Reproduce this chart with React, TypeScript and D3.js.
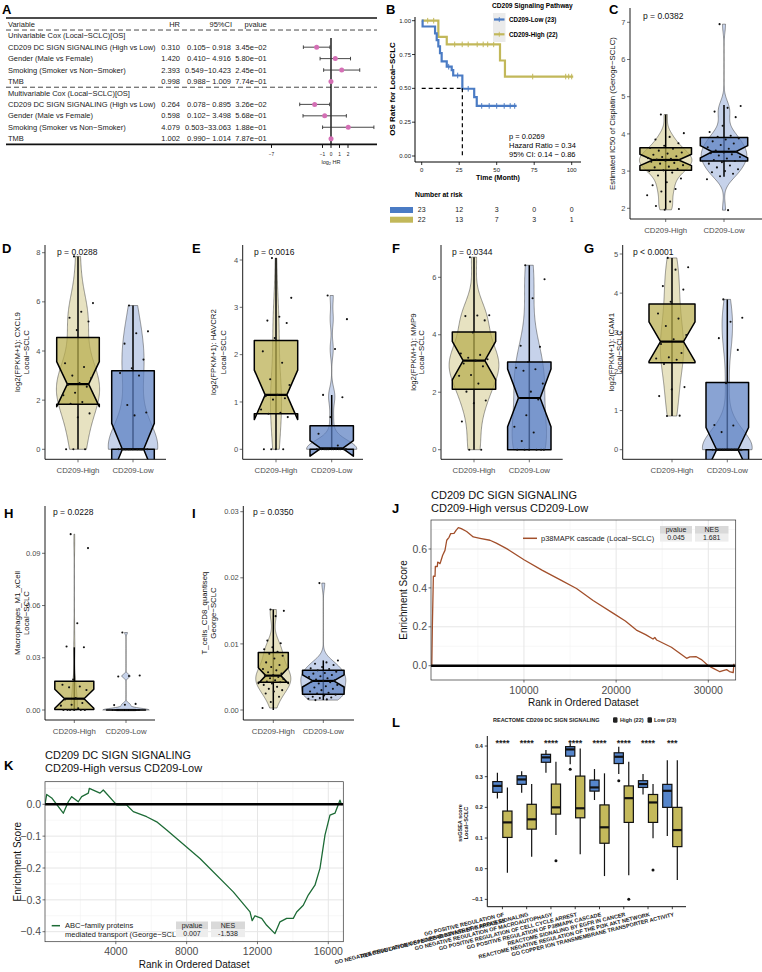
import React from 'react'
import * as d3 from 'd3'

const FONT = '"Liberation Sans", Arial, Helvetica, sans-serif'
const TXT = '#4D4D4D'
const HIGH = '#B9AD4E'
const LOW = '#5B7FC2'
const KM_BLUE = '#4A7BC4'
const KM_YEL = '#C2B85A'
const L_BLUE = '#5585CB'
const L_YEL = '#C4B95B'

// ---------- A: Cox regression ----------
const coxVars = ['CD209 DC SIGN SIGNALING (High vs Low)', 'Gender (Male vs Female)', 'Smoking (Smoker vs Non−Smoker)', 'TMB']
const uniHR = [0.31, 1.42, 2.393, 0.998]
const uniLo = [0.105, 0.41, 0.549, 0.988]
const uniHi = [0.918, 4.916, 10.423, 1.009]
const uniP = ['3.45e−02', '5.80e−01', '2.45e−01', '7.74e−01']
const mulHR = [0.264, 0.598, 4.079, 1.002]
const mulLo = [0.078, 0.102, 0.503, 0.99]
const mulHi = [0.895, 3.498, 33.063, 1.014]
const mulP = ['3.26e−02', '5.68e−01', '1.88e−01', '7.87e−01']
const forestTicks = [-7, -1, 0, 1, 2]

// ---------- B: Kaplan-Meier ----------
const kmLowT = [0, 0.6, 8.9, 10, 11.1, 12.2, 13.3, 16.7, 20, 21, 27.1, 35, 36.7, 63.3]
const kmLowS = [1, 0.957, 0.906, 0.857, 0.81, 0.76, 0.70, 0.66, 0.635, 0.595, 0.497, 0.435, 0.37, 0.37]
const kmLowCens = [18, 24, 31, 40, 45, 50, 55, 59, 62]
const kmHighT = [0, 11.1, 16.7, 52.2, 55.5, 101]
const kmHighS = [1, 0.88, 0.825, 0.706, 0.587, 0.587]
const kmHighCens = [4, 8, 22, 27, 31, 37, 41, 44, 48, 74, 96, 98, 100]
const kmTicksX = [0, 25, 50, 75, 100]
const kmTicksY = [0, 0.25, 0.5, 0.75, 1]
const riskLow = [23, 12, 3, 0, 0]
const riskHigh = [22, 13, 7, 3, 1]

// ---------- C-I: violin panels ----------
const cHigh = [4.52, 4.02, 3.92, 3.85, 3.75, 3.68, 3.62, 3.6, 3.55, 3.5, 3.47, 3.44, 3.4, 3.38, 3.35, 3.33, 3.31, 3.3, 3.28, 3.25, 3.22, 3.2, 3.16, 3.12, 3.1, 3.06, 3.02, 3.0, 2.96, 2.88, 2.8, 2.7, 2.62, 2.52, 2.45, 2.35, 2.18, 2.06, 1.98, 1.96]
const cLow = [6.95, 4.75, 4.7, 4.6, 4.45, 4.22, 4.05, 3.95, 3.92, 3.88, 3.85, 3.8, 3.74, 3.7, 3.64, 3.6, 3.55, 3.52, 3.5, 3.48, 3.45, 3.42, 3.38, 3.34, 3.3, 3.27, 3.24, 3.2, 3.15, 3.1, 3.05, 3.0, 2.97, 2.93, 2.86, 2.78, 1.95]
const cHighBox = [1.97, 3.02, 3.3, 3.63, 4.52]
const cLowBox = [2.85, 3.27, 3.52, 3.9, 4.78]

const dHigh = [7.85, 5.95, 5.6, 5.35, 5.2, 4.85, 3.5, 3.35, 3.0, 2.9, 2.7, 2.62, 2.55, 2.3, 2.2, 1.92, 1.85, 1.46, 1.3, 0, 0, 0]
const dLow = [5.85, 4.8, 4.72, 4.3, 3.65, 3.3, 3.1, 3.0, 1.8, 1.5, 1.38, 0, 0, 0, 0, 0, 0, 0, 0, 0, 0, 0, 0]
const dHighBox = [0, 1.83, 2.65, 4.55, 7.85]
const dLowBox = [0, 0, 0, 3.2, 5.85]

const eHigh = [4.04, 3.2, 2.8, 2.72, 2.67, 2.35, 2.07, 1.83, 1.48, 1.36, 1.15, 1.12, 1.08, 1.05, 0.84, 0.77, 0.75, 0.68, 0, 0, 0, 0]
const eLow = [3.25, 2.75, 2.12, 1.15, 1.1, 0.68, 0.33, 0.08, 0, 0, 0, 0, 0, 0, 0, 0, 0, 0, 0, 0, 0, 0, 0]
const eHighBox = [0, 0.75, 1.15, 2.3, 4.04]
const eLowBox = [0, 0, 0.02, 0.5, 1.15]

const fHigh = [6.7, 4.68, 4.67, 4.65, 4.5, 4.08, 3.35, 3.3, 3.2, 3.15, 3.1, 3.0, 2.9, 2.6, 2.57, 2.3, 2.02, 1.71, 1.62, 0.98, 0, 0]
const fLow = [6.42, 5.93, 5.27, 3.62, 3.58, 3.05, 2.85, 2.8, 2.75, 2.3, 2.02, 1.8, 1.75, 1.2, 0.8, 0.6, 0.3, 0, 0, 0, 0, 0, 0]
const fHighBox = [0, 2.1, 3.1, 4.1, 6.7]
const fLowBox = [0, 0, 1.8, 3.05, 6.42]

const gHigh = [4.9, 4.66, 4.6, 4.18, 4.09, 3.78, 3.48, 3.35, 3.16, 2.93, 2.82, 2.7, 2.47, 2.36, 2.33, 2.3, 2.19, 1.6, 1.54, 1.37, 0.87, 0.86]
const gLow = [3.84, 3.37, 3.27, 2.85, 2.55, 1.7, 0.63, 0.62, 0.45, 0, 0, 0, 0, 0, 0, 0, 0, 0, 0, 0, 0, 0, 0]
const gHighBox = [0.86, 2.22, 2.76, 3.72, 4.9]
const gLowBox = [0, 0, 0, 1.72, 3.84]

const hHigh = [0.101, 0.093, 0.0498, 0.0365, 0.036, 0.0175, 0.0145, 0.0135, 0.013, 0.0115, 0.0068, 0.006, 0.004, 0.003, 0.0025, 0.001, 0, 0, 0, 0, 0, 0]
const hLow = [0.0445, 0.0198, 0.0195, 0.0192, 0.0035, 0.003, 0.0028, 0, 0, 0, 0, 0, 0, 0, 0, 0, 0, 0, 0, 0, 0, 0, 0]
const hHighBox = [0, 0.0003, 0.0065, 0.0165, 0.036]
const hLowBox = [0, 0, 0, 0, 0]

const iHigh = [0.0152, 0.015, 0.0142, 0.0105, 0.0101, 0.0095, 0.0092, 0.0088, 0.0085, 0.0082, 0.0078, 0.0072, 0.0068, 0.0065, 0.0062, 0.006, 0.0057, 0.0055, 0.0053, 0.0052, 0.005, 0.0048, 0.0047, 0.0045, 0.0043, 0.0042, 0.004, 0.0038, 0.0035, 0.0032, 0.003, 0.0028, 0.0025, 0.002, 0.0012, 0.0003]
const iLow = [0.0192, 0.0075, 0.0072, 0.007, 0.0068, 0.0065, 0.0063, 0.0062, 0.006, 0.0058, 0.0056, 0.0055, 0.0053, 0.0051, 0.005, 0.0048, 0.0046, 0.0045, 0.0044, 0.0043, 0.0042, 0.004, 0.0038, 0.0036, 0.0034, 0.0032, 0.003, 0.0028, 0.0026, 0.0025, 0.0023, 0.0022, 0.002, 0.0019, 0.0018, 0.0017, 0.0016, 0.0015]
const iHighBox = [0, 0.0042, 0.0052, 0.0087, 0.0152]
const iLowBox = [0.0015, 0.0024, 0.0044, 0.006, 0.0075]

const groupNames = ['CD209-High', 'CD209-Low']

// ---------- J / K: GSEA running scores ----------
const jRank = [0, 60, 170, 350, 385, 600, 640, 890, 950, 1180, 1430, 1620, 1870, 2050, 2410, 2630, 2880, 3200, 3780, 4500, 5230, 6310, 7000, 8120, 10000, 12000, 14000, 15700, 17500, 19700, 21000, 22200, 23200, 24000, 24200, 24400, 26000, 27650, 28000, 28700, 29300, 30000, 30600, 31260, 31600, 31990, 32300, 32700, 32780]
const jES = [0, 0.2, 0.46, 0.46, 0.51, 0.51, 0.533, 0.525, 0.533, 0.568, 0.593, 0.645, 0.66, 0.679, 0.68, 0.696, 0.71, 0.705, 0.69, 0.662, 0.655, 0.645, 0.63, 0.602, 0.545, 0.49, 0.44, 0.397, 0.335, 0.269, 0.23, 0.183, 0.16, 0.137, 0.145, 0.132, 0.095, 0.038, 0.045, 0.046, 0.03, 0.0, -0.015, -0.031, -0.025, -0.02, -0.03, -0.036, 0.01]
const kRank = [0, 96, 378, 1034, 1316, 1508, 1880, 2072, 2447, 2503, 3106, 3292, 4048, 4613, 4986, 5743, 6308, 6873, 8752, 10633, 11578, 11700, 11860, 12237, 12520, 12988, 13271, 13649, 14022, 14214, 14587, 14869, 15247, 15530, 15812, 16094, 16377, 16659, 16755]
const kES = [0, 0.031, 0.02, -0.028, 0.008, 0.024, 0.008, 0.024, 0.035, 0.05, 0.035, 0.045, -0.002, -0.002, -0.023, -0.039, -0.055, -0.081, -0.17, -0.275, -0.338, -0.365, -0.35, -0.358, -0.38, -0.406, -0.369, -0.358, -0.358, -0.338, -0.317, -0.285, -0.254, -0.201, -0.097, -0.034, -0.028, 0.013, -0.002]

// ---------- L: ssGSEA boxplots ----------
const lCats = [
  'GO POSITIVE REGULATION OF\nREACTIVE OXYGEN SPECIES BIOSYNTHETIC PROCESS',
  'GO NEGATIVE REGULATION OF I KAPPAB KINASE NF KAPPAB SIGNALING',
  'GO NEGATIVE REGULATION OF MACROAUTOPHAGY',
  'GO POSITIVE REGULATION OF CELL CYCLE ARREST',
  'GO POSITIVE REGULATION OF P38MAPK CASCADE',
  'REACTOME SIGNALING BY EGFR IN CANCER',
  'REACTOME NEGATIVE REGULATION OF THE PI3K AKT NETWORK',
  'GO COPPER ION TRANSMEMBRANE TRANSPORTER ACTIVITY',
]
const lHighBox = [
  [0.229, 0.249, 0.27, 0.284, 0.313],
  [0.248, 0.275, 0.291, 0.303, 0.318],
  [0.313, 0.347, 0.363, 0.373, 0.387],
  [0.341, 0.367, 0.389, 0.398, 0.409],
  [0.224, 0.253, 0.265, 0.289, 0.325],
  [0.309, 0.343, 0.365, 0.378, 0.398],
  [0.242, 0.265, 0.276, 0.287, 0.309],
  [0.107, 0.2, 0.254, 0.275, 0.354],
]
const lLowBox = [
  [-0.013, 0.102, 0.151, 0.188, 0.265],
  [0.039, 0.129, 0.161, 0.21, 0.276],
  [0.11, 0.178, 0.2, 0.276, 0.349],
  [0.047, 0.166, 0.197, 0.302, 0.392],
  [-0.024, 0.083, 0.135, 0.208, 0.311],
  [-0.021, 0.151, 0.23, 0.27, 0.349],
  [0.099, 0.151, 0.216, 0.242, 0.276],
  [-0.037, 0.072, 0.126, 0.2, 0.354],
]
const lHighOut = [[], [], [], [0.324], [], [0.287], [], []]
const lLowOut = [[], [], [0.026], [], [], [-0.1], [-0.004], []]
const lStars = ['****', '****', '****', '****', '****', '****', '****', '***']
const lTicks = [-0.1, 0, 0.1, 0.2, 0.3, 0.4]

// ---------- helpers ----------
function nrd0(v: number[]) {
  const s = [...v].sort(d3.ascending)
  const sd = d3.deviation(s) || 0
  const iqr = (d3.quantile(s, 0.75) as number) - (d3.quantile(s, 0.25) as number)
  let lo = Math.min(sd, iqr / 1.34)
  if (!(lo > 0)) lo = sd || 1
  return 0.9 * lo * Math.pow(v.length, -0.2)
}

function kde(v: number[], lo: number, hi: number, m = 160) {
  const bw = nrd0(v)
  const out: number[][] = []
  for (let i = 0; i <= m; i++) {
    const y = lo + ((hi - lo) * i) / m
    let s = 0
    for (const x of v) {
      const z = (y - x) / bw
      s += Math.exp(-0.5 * z * z)
    }
    out.push([y, s / (v.length * bw * Math.sqrt(2 * Math.PI))])
  }
  return out
}

const jit = (i: number) => (((i * 0.618034 + 0.37) % 1) - 0.5) * 2

function Letter({ x, y, t }: { x: number; y: number; t: string }) {
  return (
    <text x={x} y={y} fontSize={13} fontWeight="bold" fill="#000">
      {t}
    </text>
  )
}

// ---------- A ----------
function Forest() {
  const fx = d3.scaleLinear().domain([0, 2]).range([331, 348])
  const ry = d3.scaleLinear().domain([0, 10]).range([24.3, 138.7])
  const ci = (lo: number, hi: number) => `${lo.toFixed(3)}−${hi.toFixed(3).padStart(6, ' ')}`
  const block = (title: string, hr: number[], lo: number[], hi: number[], p: string[]) => [
    { title },
    ...coxVars.map((v, i) => ({ v, hr: hr[i], lo: lo[i], hi: hi[i], p: p[i] })),
  ]
  const rows: any[] = [
    ...block('Univariable Cox (Local−SCLC)[OS]', uniHR, uniLo, uniHi, uniP),
    ...block('Multivariable Cox (Local−SCLC)[OS]', mulHR, mulLo, mulHi, mulP),
  ]
  const L = 6
  const R = 377
  const clipX = (v: number) => Math.min(R, fx(v))
  return (
    <g fontSize={7.5} fill="#222" style={{ whiteSpace: 'pre' }}>
      <line x1={L} x2={R} y1={18} y2={18} stroke="#111" strokeWidth={1.6} />
      <text x={8} y={ry(0)} dy="0.35em">Variable</text>
      <text x={180} y={ry(0)} dy="0.35em" textAnchor="end">HR</text>
      <text x={232} y={ry(0)} dy="0.35em" textAnchor="end">95%CI</text>
      <text x={266.7} y={ry(0)} dy="0.35em" textAnchor="end">pvalue</text>
      {[0.5, 5.5].map((r) => (
        <line key={r} x1={L} x2={R} y1={ry(r)} y2={ry(r)} stroke="#333" strokeWidth={0.9} strokeDasharray="5,3" />
      ))}
      <line x1={L} x2={R} y1={ry(10.5)} y2={ry(10.5)} stroke="#111" strokeWidth={1.6} />
      <line x1={fx(0)} x2={fx(0)} y1={38} y2={ry(10.5)} stroke="#111" strokeWidth={1.4} />
      {rows.map((r, i) => {
        const yy = ry(i + 1)
        if (r.title)
          return (
            <text key={i} x={8} y={yy} dy="0.35em">{r.title}</text>
          )
        const l2 = Math.log2
        return (
          <g key={i}>
            <text x={8} y={yy} dy="0.35em">{r.v}</text>
            <text x={180} y={yy} dy="0.35em" textAnchor="end">{r.hr.toFixed(3)}</text>
            <text x={231} y={yy} dy="0.35em" textAnchor="end">{ci(r.lo, r.hi)}</text>
            <text x={266.7} y={yy} dy="0.35em" textAnchor="end">{r.p}</text>
            <line x1={fx(l2(r.lo))} x2={clipX(l2(r.hi))} y1={yy} y2={yy} stroke="#333" strokeWidth={0.9} />
            <line x1={fx(l2(r.lo))} x2={fx(l2(r.lo))} y1={yy - 1.8} y2={yy + 1.8} stroke="#333" strokeWidth={0.9} />
            {fx(l2(r.hi)) < R && (
              <line x1={fx(l2(r.hi))} x2={fx(l2(r.hi))} y1={yy - 1.8} y2={yy + 1.8} stroke="#333" strokeWidth={0.9} />
            )}
            <circle cx={fx(l2(r.hr))} cy={yy} r={2.5} fill="#D46FB5" />
          </g>
        )
      })}
      {forestTicks.map((t) => (
        <g key={t}>
          <line x1={fx(t)} x2={fx(t)} y1={ry(10.5)} y2={ry(10.5) + 3.5} stroke="#111" strokeWidth={1} />
          <text x={fx(t)} y={154} dy="0.35em" fontSize={4.8} textAnchor="middle">
            {t < 0 ? `−${-t}` : t}
          </text>
        </g>
      ))}
      <text x={fx(0)} y={162} dy="0.35em" fontSize={5.5} textAnchor="middle">
        log<tspan fontSize={4} dy="1.5">2</tspan>
        <tspan dy="-1.5"> HR</tspan>
      </text>
    </g>
  )
}

// ---------- B ----------
function KM() {
  const x = d3.scaleLinear().domain([0, 100]).range([421.7, 571.7])
  const y = d3.scaleLinear().domain([0, 1]).range([156, 20.7])
  const line = d3
    .line<number[]>()
    .x((d) => x(d[0]))
    .y((d) => y(d[1]))
    .curve(d3.curveStepAfter)
  const survAt = (T: number[], S: number[], t: number) => {
    let s = S[0]
    T.forEach((ti, i) => {
      if (ti <= t) s = S[i]
    })
    return s
  }
  const curves = [
    { T: kmHighT, S: kmHighS, C: kmHighCens, col: KM_YEL },
    { T: kmLowT, S: kmLowS, C: kmLowCens, col: KM_BLUE },
  ]
  return (
    <g>
      {curves.map((c, k) => (
        <g key={k}>
          <path d={line(c.T.map((t, i) => [t, c.S[i]])) || ''} fill="none" stroke={c.col} strokeWidth={2.2} />
          {c.C.map((t, i) => (
            <line key={i} x1={x(t)} x2={x(t)} y1={y(survAt(c.T, c.S, t)) - 2.8} y2={y(survAt(c.T, c.S, t)) + 2.8} stroke={c.col} strokeWidth={1} />
          ))}
        </g>
      ))}
      <line x1={x(0)} x2={x(27.1)} y1={y(0.5)} y2={y(0.5)} stroke="#000" strokeWidth={1.2} strokeDasharray="4,3" />
      <line x1={x(27.1)} x2={x(27.1)} y1={y(0.5)} y2={y(0)} stroke="#000" strokeWidth={1.2} strokeDasharray="4,3" />
      <line x1={415} x2={415} y1={17} y2={162} stroke="#000" strokeWidth={1} />
      <line x1={415} x2={581} y1={162} y2={162} stroke="#000" strokeWidth={1} />
      {kmTicksY.map((t) => (
        <g key={t}>
          <line x1={412} x2={415} y1={y(t)} y2={y(t)} stroke="#000" strokeWidth={0.8} />
          <text x={411} y={y(t)} dy="0.35em" fontSize={6} textAnchor="end" fill="#222">{t.toFixed(2)}</text>
        </g>
      ))}
      {kmTicksX.map((t) => (
        <g key={t}>
          <line x1={x(t)} x2={x(t)} y1={162} y2={165} stroke="#000" strokeWidth={0.8} />
          <text x={x(t)} y={170} dy="0.35em" fontSize={6} textAnchor="middle" fill="#222">{t}</text>
        </g>
      ))}
      <text x={498} y={178} dy="0.35em" fontSize={7} fontWeight="bold" textAnchor="middle">Time (Month)</text>
      <text transform="translate(392,89) rotate(-90)" dy="0.35em" fontSize={8} fontWeight="bold" textAnchor="middle">OS Rate for Local−SCLC</text>
      <text x={509} y={136} dy="0.35em" fontSize={7.5}>p = 0.0269</text>
      <text x={509} y={145} dy="0.35em" fontSize={7.5}>Hazard Ratio = 0.34</text>
      <text x={509} y={154} dy="0.35em" fontSize={7.5}>95% CI: 0.14 − 0.86</text>
      {/* legend */}
      <text x={492} y={6} dy="0.35em" fontSize={6.6} fontWeight="bold">CD209 Signaling Pathway</text>
      <rect x={493} y={13} width={12.5} height={29} fill="#EBEBEB" />
      {[
        { col: KM_BLUE, lab: 'CD209-Low (23)', yy: 19.5 },
        { col: KM_YEL, lab: 'CD209-High (22)', yy: 34.3 },
      ].map((d) => (
        <g key={d.lab}>
          <line x1={494} x2={504.5} y1={d.yy} y2={d.yy} stroke={d.col} strokeWidth={2.2} />
          <line x1={499.3} x2={499.3} y1={d.yy - 2.5} y2={d.yy + 2.5} stroke={d.col} strokeWidth={0.8} />
          <text x={509} y={d.yy} dy="0.35em" fontSize={6.3} fontWeight="bold">{d.lab}</text>
        </g>
      ))}
      {/* risk table */}
      <text x={415} y={195} dy="0.35em" fontSize={6.8} fontWeight="bold">Number at risk</text>
      {[
        { col: KM_BLUE, vals: riskLow, yy: 210 },
        { col: KM_YEL, vals: riskHigh, yy: 219.7 },
      ].map((r) => (
        <g key={r.yy}>
          <rect x={390} y={r.yy - 3} width={23} height={6} fill={r.col} />
          {r.vals.map((v, i) => (
            <text key={i} x={x(kmTicksX[i])} y={r.yy} dy="0.35em" fontSize={7} textAnchor="middle" fill="#222">{v}</text>
          ))}
        </g>
      ))}
    </g>
  )
}

// ---------- C-I ----------
type Grp = { pts: number[]; box: number[]; bh: number }
type VP = {
  id: string
  x0: number
  x1: number
  yTop: number
  yBot: number
  cal: number[]
  ticks: number[]
  fmt: (v: number) => string
  cats: number[]
  groups: Grp[]
  ylab: string[]
  ylabX: number[]
  ptxt: string
  ptX: number
  ptY: number
}

function ViolinPanel(p: VP) {
  const y = d3.scaleLinear().domain([p.cal[0], p.cal[2]]).range([p.cal[1], p.cal[3]])
  const vMax = 0.45 * (p.cats[1] - p.cats[0])
  const dens = p.groups.map((g) => kde(g.pts, d3.min(g.pts) as number, d3.max(g.pts) as number))
  const maxD = d3.max(dens.flat(), (d) => d[1]) as number
  const cols = [HIGH, LOW]
  const yc = (p.yTop + p.yBot) / 2
  return (
    <g>
      <defs>
        <clipPath id={p.id}>
          <rect x={p.x0} y={p.yTop} width={p.x1 - p.x0} height={p.yBot - p.yTop} />
        </clipPath>
      </defs>
      <g clipPath={`url(#${p.id})`}>
        {p.groups.map((g, k) => {
          const cx = p.cats[k]
          const area = d3
            .area<number[]>()
            .y((d) => y(d[0]))
            .x0((d) => cx - (d[1] / maxD) * vMax)
            .x1((d) => cx + (d[1] / maxD) * vMax)
          const [wlo, q1, med, q3, whi] = g.box
          const nd = (1.58 * (q3 - q1)) / Math.sqrt(g.pts.length)
          const nu = med + nd
          const nl = med - nd
          const xl = cx - g.bh
          const xr = cx + g.bh
          const ind = g.bh * 0.5
          const poly = [
            [xl, q3], [xl, nu], [xl + ind, med], [xl, nl], [xl, q1],
            [xr, q1], [xr, nl], [xr - ind, med], [xr, nu], [xr, q3],
          ]
          const jw = g.bh * 0.72
          return (
            <g key={k}>
              <path d={area(dens[k]) + 'Z'} fill={cols[k]} fillOpacity={0.35} stroke="#3a3a3a" strokeWidth={0.5} />
              <line x1={cx} x2={cx} y1={y(whi)} y2={y(wlo)} stroke="#000" strokeWidth={1.5} />
              <path
                d={'M' + poly.map((q) => `${q[0]},${y(q[1])}`).join('L') + 'Z'}
                fill={cols[k]}
                fillOpacity={0.72}
                stroke="#000"
                strokeWidth={1.5}
                strokeLinejoin="round"
              />
              <line x1={xl + ind} x2={xr - ind} y1={y(med)} y2={y(med)} stroke="#000" strokeWidth={2.2} />
              {g.pts.map((v, i) => (
                <circle key={i} cx={cx + jit(i) * jw} cy={y(v)} r={1.05} fill="#111" />
              ))}
            </g>
          )
        })}
      </g>
      <line x1={p.x0} x2={p.x0} y1={p.yTop} y2={p.yBot} stroke="#000" strokeWidth={0.9} />
      <line x1={p.x0} x2={p.x1} y1={p.yBot} y2={p.yBot} stroke="#000" strokeWidth={0.9} />
      {p.ticks.map((t) => (
        <g key={t}>
          <line x1={p.x0 - 3} x2={p.x0} y1={y(t)} y2={y(t)} stroke="#333" strokeWidth={0.7} />
          <text x={p.x0 - 4.5} y={y(t)} dy="0.35em" fontSize={7.5} textAnchor="end" fill={TXT}>{p.fmt(t)}</text>
        </g>
      ))}
      {p.cats.map((c, k) => (
        <g key={k}>
          <line x1={c} x2={c} y1={p.yBot} y2={p.yBot + 3} stroke="#333" strokeWidth={0.7} />
          <text x={c} y={p.yBot + 11} dy="0.35em" fontSize={7.8} textAnchor="middle" fill={TXT}>{groupNames[k]}</text>
        </g>
      ))}
      {p.ylab.map((l, i) => (
        <text key={i} transform={`translate(${p.ylabX[i]},${yc}) rotate(-90)`} dy="0.35em" fontSize={7.8} textAnchor="middle" fill="#111">{l}</text>
      ))}
      <text x={p.ptX} y={p.ptY} fontSize={8.5} fill="#111">{p.ptxt}</text>
    </g>
  )
}

// ---------- J / K ----------
type GP = {
  id: string
  left: number
  right: number
  top: number
  bottom: number
  xd: number[]
  xr: number[]
  yd: number[]
  yr: number[]
  xTicks: number[]
  xMinor: number[]
  yTicks: number[]
  yMinor: number[]
  ranks: number[]
  es: number[]
  color: string
  children?: any
}

function Gsea(g: GP) {
  const x = d3.scaleLinear().domain(g.xd).range(g.xr)
  const y = d3.scaleLinear().domain(g.yd).range(g.yr)
  const line = d3
    .line<number>()
    .x((d) => x(d))
    .y((_, i) => y(g.es[i]))
  const fmtY = (v: number) => (v < 0 ? '−' + (-v).toFixed(1) : v.toFixed(1))
  return (
    <g>
      <defs>
        <clipPath id={g.id}>
          <rect x={g.left} y={g.top} width={g.right - g.left} height={g.bottom - g.top} />
        </clipPath>
      </defs>
      {g.xMinor.map((t) => (
        <line key={'xm' + t} x1={x(t)} x2={x(t)} y1={g.top} y2={g.bottom} stroke="#F2F2F2" strokeWidth={0.6} />
      ))}
      {g.yMinor.map((t) => (
        <line key={'ym' + t} x1={g.left} x2={g.right} y1={y(t)} y2={y(t)} stroke="#F2F2F2" strokeWidth={0.6} />
      ))}
      {g.xTicks.map((t) => (
        <line key={'x' + t} x1={x(t)} x2={x(t)} y1={g.top} y2={g.bottom} stroke="#E6E6E6" strokeWidth={1} />
      ))}
      {g.yTicks.map((t) => (
        <line key={'y' + t} x1={g.left} x2={g.right} y1={y(t)} y2={y(t)} stroke="#E6E6E6" strokeWidth={1} />
      ))}
      <g clipPath={`url(#${g.id})`}>
        <path d={line(g.ranks) || ''} fill="none" stroke={g.color} strokeWidth={1.3} strokeLinejoin="round" />
        <line x1={g.left} x2={g.right} y1={y(0)} y2={y(0)} stroke="#000" strokeWidth={2.6} />
      </g>
      <rect x={g.left} y={g.top} width={g.right - g.left} height={g.bottom - g.top} fill="none" stroke="#333" strokeWidth={0.7} />
      {g.yTicks.map((t) => (
        <g key={'yl' + t}>
          <line x1={g.left - 2.5} x2={g.left} y1={y(t)} y2={y(t)} stroke="#333" strokeWidth={0.7} />
          <text x={g.left - 4} y={y(t)} dy="0.35em" fontSize={10.5} textAnchor="end" fill={TXT}>{fmtY(t)}</text>
        </g>
      ))}
      {g.xTicks.map((t) => (
        <g key={'xl' + t}>
          <line x1={x(t)} x2={x(t)} y1={g.bottom} y2={g.bottom + 2.5} stroke="#333" strokeWidth={0.7} />
          <text x={x(t)} y={g.bottom + 10} dy="0.35em" fontSize={10.5} textAnchor="middle" fill={TXT}>{t}</text>
        </g>
      ))}
      <text x={(g.left + g.right) / 2} y={g.bottom + 22.5} dy="0.35em" fontSize={10} textAnchor="middle" fill="#111">Rank in Ordered Dataset</text>
      <text transform={`translate(${g.left - 28},${(g.top + g.bottom) / 2}) rotate(-90)`} dy="0.35em" fontSize={10} textAnchor="middle" fill="#111">Enrichment Score</text>
      {g.children}
    </g>
  )
}

function StatTable({ x1, x2, x3, y0, p, nes }: { x1: number; x2: number; x3: number; y0: number; p: string; nes: string }) {
  const h = 7.8
  return (
    <g fontSize={7} fill="#222">
      <rect x={x1} y={y0} width={x2 - x1 - 3} height={h} fill="#D9D9D9" />
      <rect x={x2} y={y0} width={x3 - x2} height={h} fill="#D9D9D9" />
      <rect x={x1} y={y0 + h} width={x2 - x1 - 3} height={h} fill="#EDEDED" />
      <rect x={x2} y={y0 + h} width={x3 - x2} height={h} fill="#EDEDED" />
      <text x={(x1 + x2 - 3) / 2} y={y0 + h / 2} dy="0.35em" textAnchor="middle">pvalue</text>
      <text x={(x2 + x3) / 2} y={y0 + h / 2} dy="0.35em" textAnchor="middle">NES</text>
      <text x={(x1 + x2 - 3) / 2} y={y0 + h * 1.5} dy="0.35em" textAnchor="middle">{p}</text>
      <text x={(x2 + x3) / 2} y={y0 + h * 1.5} dy="0.35em" textAnchor="middle">{nes}</text>
    </g>
  )
}

// ---------- L ----------
function SsgseaBox() {
  const x = d3.scalePoint<string>().domain(lCats).range([502.4, 672.3])
  const y = d3.scaleLinear().domain([0, 0.3]).range([868.7, 776.7])
  const x0 = 487.3
  const x1 = 686
  const yTop = 736
  const yBot = 906.7
  const bh = 4.6
  const drawBox = (b: number[], cx: number, col: string, key: string) => (
    <g key={key}>
      <line x1={cx} x2={cx} y1={y(b[4])} y2={y(b[0])} stroke="#111" strokeWidth={1.2} />
      <rect x={cx - bh} y={y(b[3])} width={bh * 2} height={y(b[1]) - y(b[3])} fill={col} stroke="#111" strokeWidth={1.2} />
      <line x1={cx - bh} x2={cx + bh} y1={y(b[2])} y2={y(b[2])} stroke="#111" strokeWidth={2.2} />
    </g>
  )
  return (
    <g fontWeight="bold" fill="#222">
      <text x={493} y={720} dy="0.35em" fontSize={5.5}>REACTOME CD209 DC SIGN SIGNALING</text>
      <rect x={613} y={717.3} width={4.5} height={5.4} rx={1.2} fill="#222" />
      <text x={620} y={720} dy="0.35em" fontSize={5.5}>High (22)</text>
      <rect x={647.5} y={717.3} width={4.5} height={5.4} rx={1.2} fill="#222" />
      <text x={654} y={720} dy="0.35em" fontSize={5.5}>Low (23)</text>
      {lCats.map((c, i) => {
        const cx = x(c) as number
        return (
          <g key={c}>
            {drawBox(lHighBox[i], cx - 5, L_BLUE, 'h')}
            {drawBox(lLowBox[i], cx + 5, L_YEL, 'l')}
            {lHighOut[i].map((v, j) => (
              <circle key={'ho' + j} cx={cx - 5} cy={y(v)} r={1.5} fill="#111" />
            ))}
            {lLowOut[i].map((v, j) => (
              <circle key={'lo' + j} cx={cx + 5} cy={y(v)} r={1.5} fill="#111" />
            ))}
            <text x={cx} y={746} fontSize={9} textAnchor="middle" fill="#222">{lStars[i]}</text>
            <line x1={cx} x2={cx} y1={yBot} y2={yBot + 2.5} stroke="#111" strokeWidth={0.8} />
            <g transform={`translate(${cx + 1.5},${yBot + 7.5}) rotate(-14)`}>
              {c.split('\n').map((ln, k) => (
                <text key={k} x={0} y={k * 6.2} dy="0.35em" fontSize={5.5} textAnchor="end" fill="#222">{ln}</text>
              ))}
            </g>
          </g>
        )
      })}
      <line x1={x0} x2={x0} y1={yTop} y2={yBot} stroke="#111" strokeWidth={1} />
      <line x1={x0} x2={x1} y1={yBot} y2={yBot} stroke="#111" strokeWidth={1} />
      {lTicks.map((t) => (
        <g key={t}>
          <line x1={x0 - 2.5} x2={x0} y1={y(t)} y2={y(t)} stroke="#111" strokeWidth={0.8} />
          <text x={x0 - 4.5} y={y(t)} dy="0.35em" fontSize={5.5} textAnchor="end">{t < 0 ? '−' + (-t).toFixed(1) : t.toFixed(1)}</text>
        </g>
      ))}
      <text transform="translate(460,823) rotate(-90)" dy="0.35em" fontSize={5.5} textAnchor="middle">ssGSEA score</text>
      <text transform="translate(466.5,823) rotate(-90)" dy="0.35em" fontSize={5.5} textAnchor="middle">Local−SCLC</text>
    </g>
  )
}

const fInt = (v: number) => String(v)
const f2 = (v: number) => v.toFixed(2)

export default function App() {
  return (
    <div style={{ position: 'absolute', left: 0, top: 0 }}>
      <svg width={762} height={972} style={{ display: 'block', background: '#fff', fontFamily: FONT }}>
        <Letter x={2} y={14} t="A" />
        <Forest />
        <Letter x={386} y={14} t="B" />
        <KM />
        <Letter x={609} y={14} t="C" />
        <ViolinPanel id="cC" x0={630} x1={762} yTop={8} yBot={219} cal={[2, 208.3, 7, 22.3]} ticks={[2, 3, 4, 5, 6, 7]} fmt={fInt}
          cats={[665.7, 724]} groups={[{ pts: cHigh, box: cHighBox, bh: 25.8 }, { pts: cLow, box: cLowBox, bh: 23.7 }]}
          ylab={['Estimated IC50 of Cisplatin (Geroge−SCLC)']} ylabX={[612.7]} ptxt="p = 0.0382" ptX={643} ptY={19} />

        <Letter x={2} y={253} t="D" />
        <ViolinPanel id="cD" x0={45} x1={166} yTop={245} yBot={459.3} cal={[0, 449.3, 8, 252.7]} ticks={[0, 2, 4, 6, 8]} fmt={fInt}
          cats={[78, 133]} groups={[{ pts: dHigh, box: dHighBox, bh: 21.3 }, { pts: dLow, box: dLowBox, bh: 21.3 }]}
          ylab={['log2(FPKM+1): CXCL9', 'Local−SCLC']} ylabX={[17, 26]} ptxt="p = 0.0288" ptX={57} ptY={255} />
        <Letter x={192} y={253} t="E" />
        <ViolinPanel id="cE" x0={242.7} x1={363} yTop={245} yBot={459.3} cal={[0, 449.3, 4, 260]} ticks={[0, 1, 2, 3, 4]} fmt={fInt}
          cats={[276, 331.7]} groups={[{ pts: eHigh, box: eHighBox, bh: 21.7 }, { pts: eLow, box: eLowBox, bh: 21.7 }]}
          ylab={['log2(FPKM+1): HAVCR2', 'Local−SCLC']} ylabX={[213, 223]} ptxt="p = 0.0016" ptX={254} ptY={255} />
        <Letter x={392} y={253} t="F" />
        <ViolinPanel id="cF" x0={441} x1={562.7} yTop={245} yBot={459.3} cal={[0, 449.7, 6, 277.3]} ticks={[0, 2, 4, 6]} fmt={fInt}
          cats={[474, 529.3]} groups={[{ pts: fHigh, box: fHighBox, bh: 21.7 }, { pts: fLow, box: fLowBox, bh: 21.7 }]}
          ylab={['log2(FPKM+1): MMP9', 'Local−SCLC']} ylabX={[413, 421]} ptxt="p = 0.0344" ptX={452} ptY={255} />
        <Letter x={584} y={253} t="G" />
        <ViolinPanel id="cG" x0={622.7} x1={762} yTop={245} yBot={459.3} cal={[0, 449.7, 5, 254]} ticks={[0, 1, 2, 3, 4, 5]} fmt={fInt}
          cats={[672, 727.3]} groups={[{ pts: gHigh, box: gHighBox, bh: 23 }, { pts: gLow, box: gLowBox, bh: 21.3 }]}
          ylab={['log2(FPKM+1): ICAM1', 'Local−SCLC']} ylabX={[611, 619.5]} ptxt="p < 0.0001" ptX={633} ptY={255} />

        <Letter x={4} y={518} t="H" />
        <ViolinPanel id="cH" x0={45} x1={155} yTop={506} yBot={720} cal={[0, 710, 0.09, 553.3]} ticks={[0, 0.03, 0.06, 0.09]} fmt={f2}
          cats={[74.3, 126]} groups={[{ pts: hHigh, box: hHighBox, bh: 19.5 }, { pts: hLow, box: hLowBox, bh: 19.5 }]}
          ylab={['Macrophages_M1_xCell', 'Local−SCLC']} ylabX={[17, 26]} ptxt="p = 0.0228" ptX={53} ptY={515} />
        <Letter x={192} y={518} t="I" />
        <ViolinPanel id="cI" x0={243.3} x1={354} yTop={506} yBot={720} cal={[0, 710, 0.03, 511.7]} ticks={[0, 0.01, 0.02, 0.03]} fmt={f2}
          cats={[273.3, 323.3]} groups={[{ pts: iHigh, box: iHighBox, bh: 15 }, { pts: iLow, box: iLowBox, bh: 20.8 }]}
          ylab={['T_cells_CD8_quantiseq', 'George−SCLC']} ylabX={[204, 213]} ptxt="p = 0.0350" ptX={253} ptY={515} />

        <Letter x={392} y={513} t="J" />
        <text x={431} y={499} fontSize={11} fill="#111">CD209 DC SIGN SIGNALING</text>
        <text x={431} y={511.5} fontSize={11} fill="#111">CD209-High versus CD209-Low</text>
        <Gsea id="cJ" left={431} right={735.7} top={520} bottom={680} xd={[0, 30000]} xr={[431.8, 708.3]} yd={[0, 0.6]} yr={[665.7, 549]}
          xTicks={[10000, 20000, 30000]} xMinor={[5000, 15000, 25000]} yTicks={[0, 0.2, 0.4, 0.6]} yMinor={[0.1, 0.3, 0.5, 0.7]}
          ranks={jRank} es={jES} color="#A24F2B">
          <line x1={523} x2={537} y1={538.3} y2={538.3} stroke="#A24F2B" strokeWidth={1.5} />
          <text x={541} y={538.3} dy="0.35em" fontSize={7.5} fill="#222">p38MAPK cascade (Local−SCLC)</text>
          <StatTable x1={660} x2={695} x3={728.5} y0={526} p="0.045" nes="1.681" />
        </Gsea>

        <Letter x={4} y={770} t="K" />
        <text x={45} y={759} fontSize={11} fill="#111">CD209 DC SIGN SIGNALING</text>
        <text x={45} y={772} fontSize={11} fill="#111">CD209-High versus CD209-Low</text>
        <Gsea id="cK" left={45} right={343.3} top={781.7} bottom={941.7} xd={[0, 16000]} xr={[45, 328.3]} yd={[0, -0.4]} yr={[804.3, 931.7]}
          xTicks={[4000, 8000, 12000, 16000]} xMinor={[2000, 6000, 10000, 14000]} yTicks={[0, -0.1, -0.2, -0.3, -0.4]} yMinor={[0.05, -0.05, -0.15, -0.25, -0.35]}
          ranks={kRank} es={kES} color="#1D6B36">
          <line x1={51.7} x2={60} y1={925.7} y2={925.7} stroke="#1D6B36" strokeWidth={1.5} />
          <text x={65} y={925.7} dy="0.35em" fontSize={7.5} fill="#222">ABC−family proteins</text>
          <text x={65} y={934.3} dy="0.35em" fontSize={7.5} fill="#222">mediated transport (George−SCL</text>
          <StatTable x1={176} x2={211} x3={245} y0={921.5} p="0.007" nes="-1.538" />
        </Gsea>

        <Letter x={392} y={727} t="L" />
        <SsgseaBox />
      </svg>
    </div>
  )
}
